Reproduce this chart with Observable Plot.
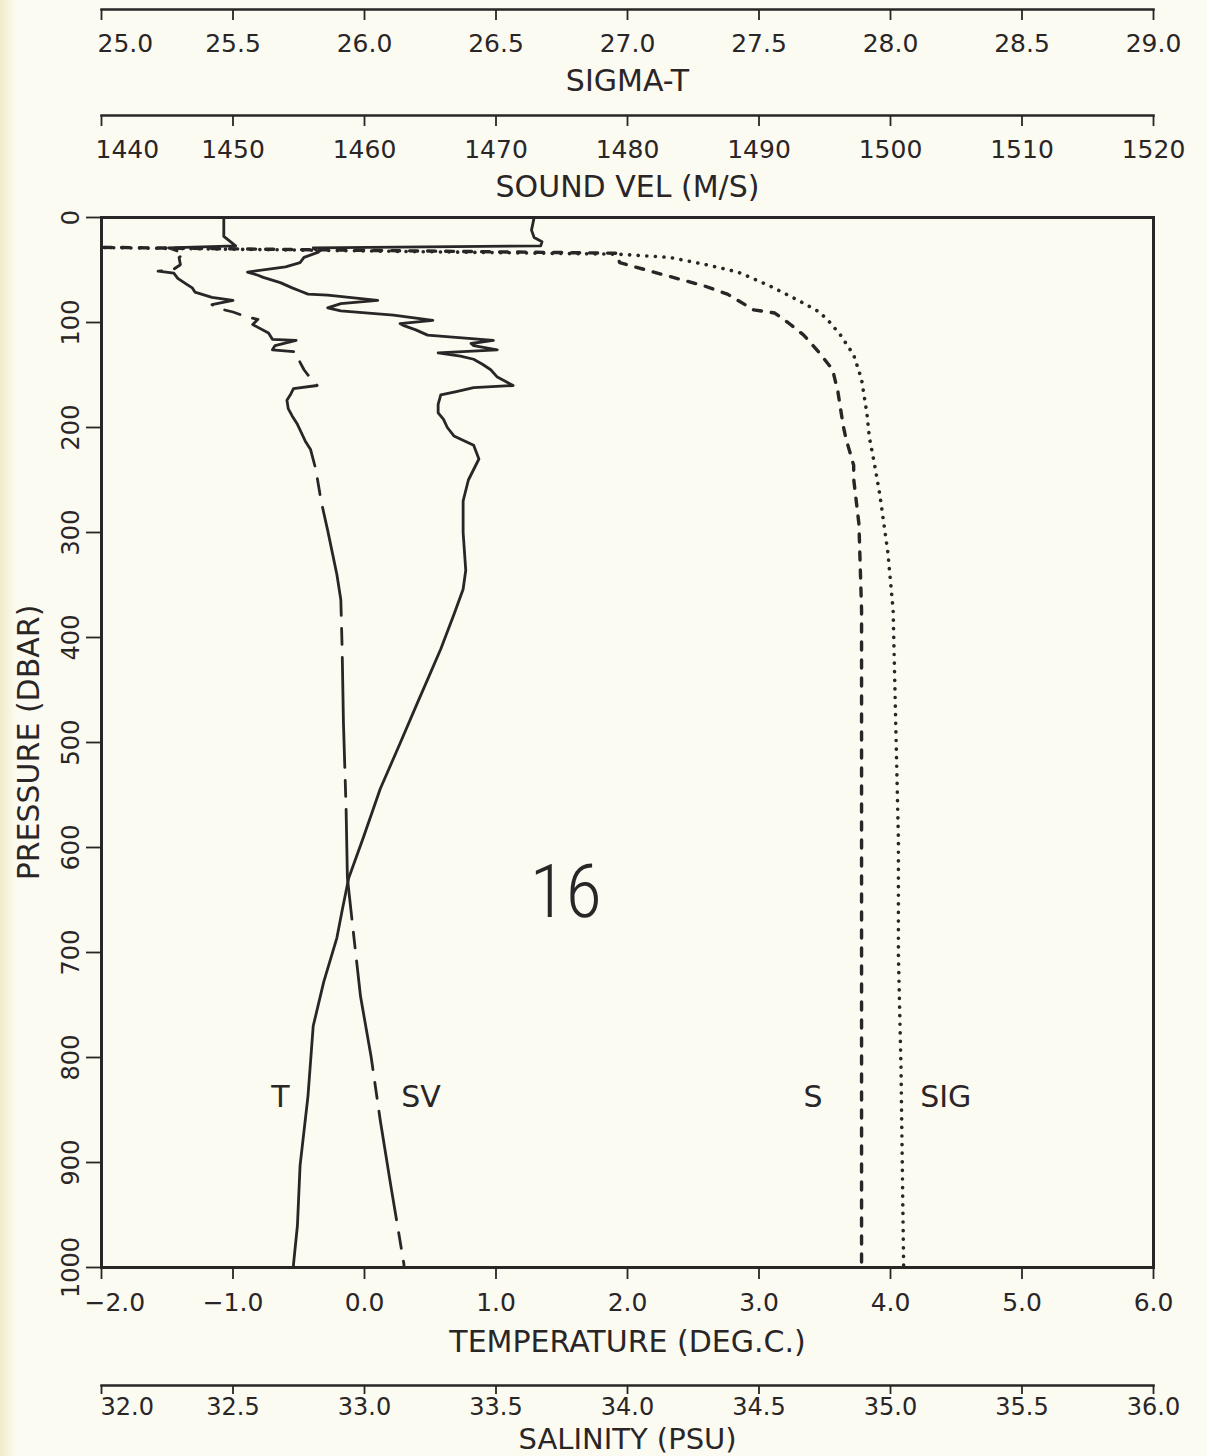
<!DOCTYPE html>
<html lang="en">
<head>
<meta charset="utf-8">
<title>Station 16 CTD profile</title>
<script src="https://cdn.jsdelivr.net/npm/d3@7"></script>
<script src="https://cdn.jsdelivr.net/npm/@observablehq/plot@0.6"></script>
<style>
  html, body { margin: 0; padding: 0; background: #fbfbf1; }
  #chart {
    position: relative; width: 1207px; height: 1456px; overflow: hidden;
    background: linear-gradient(to right, #f1ebcb 0px, #f7f4df 9px, #fbfbf1 16px);
  }
  #chart svg { position: absolute; left: 0; top: 0; }
  #chart g[aria-label$="axis label"] text { font-size: 30px; }
  #chart g[aria-label="y-axis tick label"] text { font-size: 24px; }
  #chart svg.salinity g[aria-label="x-axis tick label"] text { font-size: 24px; }
  #chart svg.salinity g[aria-label="x-axis label"] text { font-size: 29px; }
</style>
</head>
<body>
<div id="chart"></div>
<script>
// Station 16 CTD cast: pressure (dbar) against temperature, sound velocity,
// salinity and sigma-t, each series on its own horizontal scale.

// Temperature (deg C)
const tempPressure = [0, 12, 19, 23, 27, 29, 33, 38, 43, 47, 52, 55, 57, 62, 67, 70, 73, 74, 79, 82,
  86, 89, 93, 98, 101, 103, 107, 112, 117, 120, 122, 126, 129, 132, 135, 140, 145, 152, 156, 160,
  162, 166, 169, 178, 186, 192, 200, 208, 217, 230, 250, 270, 300, 336, 354, 378, 411, 437, 463, 501,
  544, 591, 629, 660, 686, 728, 770, 837, 903, 960, 997, 1000];
const temperature = [1.29, 1.27, 1.29, 1.35, 1.34, -0.39, -0.35, -0.46, -0.49, -0.60, -0.89, -0.81, -0.77, -0.64, -0.55, -0.49, -0.43, -0.28, 0.10, -0.18,
  -0.28, -0.18, 0.22, 0.52, 0.27, 0.30, 0.39, 0.48, 0.98, 0.81, 0.83, 1.01, 0.56, 0.73, 0.83, 0.90, 0.96, 1.01, 1.07, 1.13,
  0.83, 0.69, 0.58, 0.56, 0.56, 0.60, 0.63, 0.68, 0.83, 0.87, 0.79, 0.75, 0.75, 0.77, 0.75, 0.68, 0.58, 0.49, 0.40, 0.27,
  0.12, -0.01, -0.12, -0.17, -0.21, -0.31, -0.39, -0.43, -0.49, -0.51, -0.54, -0.54];

// Sound velocity (m/s)
const svPressure = [0, 18, 23, 27, 29, 31, 35, 38, 45, 50, 51, 53, 58, 63, 67, 71, 76, 79, 83, 87,
  90, 95, 97, 102, 110, 116, 117, 122, 126, 128, 132, 138, 145, 150, 160, 163, 168, 174, 182, 189,
  197, 205, 213, 221, 240, 270, 298, 340, 364, 411, 482, 563, 629, 686, 742, 799, 860, 922, 997, 1000];
const soundVelocity = [1449.3, 1449.3, 1449.8, 1450.2, 1445.1, 1445.6, 1446.3, 1445.9, 1446.0, 1445.4,
  1444.3, 1445.5, 1445.8, 1446.4, 1446.9, 1447.1, 1448.4, 1450.0, 1448.4, 1449.0,
  1450.0, 1451.1, 1451.9, 1451.5, 1452.7, 1453.0, 1454.8, 1453.2, 1453.0, 1454.8,
  1454.9, 1455.1, 1455.4, 1455.7, 1456.4, 1454.6, 1454.4, 1454.1, 1454.2, 1454.5,
  1454.9, 1455.2, 1455.5, 1455.9, 1456.3, 1456.7, 1457.2, 1457.9, 1458.2, 1458.3,
  1458.4, 1458.6, 1458.7, 1459.2, 1459.7, 1460.5, 1461.2, 1462.0, 1463.0, 1463.0];

// Salinity (PSU); the surface layer is fresher than the axis minimum
const salPressure = [0, 27, 34, 43, 52, 65, 73, 88, 91, 100, 112, 129, 145, 166, 198, 210, 236, 249, 292, 374,
  483, 592, 702, 811, 1000];
const salinity = [31.50, 31.50, 33.96, 33.97, 34.10, 34.29, 34.38, 34.48, 34.56, 34.61, 34.67, 34.73, 34.78, 34.80, 34.82,
  34.83, 34.86, 34.86, 34.88, 34.89, 34.89, 34.89, 34.89, 34.89, 34.89];

// Sigma-t (kg/m3 - 1000); surface values fall below the axis minimum
const sigPressure = [0, 27, 35, 38, 45, 52, 65, 79, 90, 100, 112, 131, 154, 186, 210, 236, 265, 319, 374, 483,
  592, 702, 811, 1000];
const sigmaT = [24.50, 24.50, 26.97, 27.16, 27.30, 27.42, 27.54, 27.65, 27.73, 27.77, 27.81, 27.86, 27.89, 27.91, 27.92,
  27.94, 27.96, 27.99, 28.01, 28.02, 28.03, 28.03, 28.04, 28.05];

// Axis ticks
const tempTicks = [-2, -1, 0, 1, 2, 3, 4, 5, 6];
const svTicks = [1440, 1450, 1460, 1470, 1480, 1490, 1500, 1510, 1520];
const salTicks = [32, 32.5, 33, 33.5, 34, 34.5, 35, 35.5, 36];
const sigTicks = [25, 25.5, 26, 26.5, 27, 27.5, 28, 28.5, 29];
const pressureTicks = [0, 100, 200, 300, 400, 500, 600, 700, 800, 900, 1000];

// Curve names and station number, placed in temperature / pressure units
const curveNames = ["T", "SV", "S", "SIG"];
const curveNameTemp = [-0.64, 0.43, 3.41, 4.42];
const curveNamePressure = 838;
const stationLabel = "16";

const W = 1207, H = 1456;
const frameBox = {left: 101, right: 1153, top: 217, bottom: 1267};
const INK = "#2a2526";
const FONT = "'DejaVu Sans', 'Liberation Sans', sans-serif";
const fmt1 = d3.format(".1f");
const fmt0 = d3.format("d");

const rows = (ps, vs) => ps.map((p, i) => ({p, v: vs[i]}));
const svgStyle = {background: "transparent", fontFamily: FONT, fontSize: "25px", color: INK, overflow: "visible"};

// Shared frame geometry for the profile layers
const layer = {
  width: W, height: H,
  marginLeft: frameBox.left, marginRight: W - frameBox.right,
  marginTop: frameBox.top, marginBottom: H - frameBox.bottom,
  style: svgStyle
};
const yScale = {domain: [0, 1000], reverse: true};

// Bottom-anchored tick axis; the first label starts at its tick instead of centring on it
function hangingAxis(ticks, format, label, {tickSize, tickPadding, labelOffset, firstShift}) {
  return [
    Plot.axisX({anchor: "bottom", ticks, tickFormat: d => (d === ticks[0] ? "" : format(d)),
      tickSize, tickPadding, strokeWidth: 1.8,
      label, labelAnchor: "center", labelOffset, labelArrow: "none"}),
    Plot.axisX({anchor: "bottom", ticks: ticks.slice(0, 1), tickFormat: format,
      tickSize: 0, tickPadding: tickSize + tickPadding, label: null, textAnchor: "start", dx: firstShift})
  ];
}

// A horizontal scale drawn as a ruled line with hanging ticks
function axisStrip(lineY, domain, ticks, format, label, opts, className) {
  return Plot.plot({
    width: W, height: H, className,
    marginLeft: frameBox.left, marginRight: W - frameBox.right,
    marginTop: lineY - 1, marginBottom: H - lineY,
    style: svgStyle,
    x: {domain},
    marks: [
      Plot.frame({anchor: "bottom", stroke: INK, strokeWidth: 2.5}),
      ...hangingAxis(ticks, format, label, opts)
    ]
  });
}

const main = Plot.plot({
  ...layer,
  x: {domain: [-2, 6]},
  y: yScale,
  marks: [
    Plot.frame({stroke: INK, strokeWidth: 3}),
    ...hangingAxis(tempTicks, fmt1, "TEMPERATURE (DEG.C.)",
      {tickSize: 12, tickPadding: 14, labelOffset: 84, firstShift: -17}),
    Plot.axisY({anchor: "left", ticks: pressureTicks, tickFormat: fmt0, tickSize: 15, tickPadding: 8,
      tickRotate: -90, strokeWidth: 1.8, label: "PRESSURE (DBAR)", labelAnchor: "center", labelOffset: 84, labelArrow: "none"}),
    Plot.line(rows(tempPressure, temperature), {x: "v", y: "p", stroke: INK, strokeWidth: 2.8,
      strokeLinejoin: "round", clip: true}),
    Plot.text(curveNames, {x: (d, i) => curveNameTemp[i], y: () => curveNamePressure, text: d => d,
      fontSize: 30, fill: INK}),
    Plot.text([stationLabel], {x: () => 1.53, y: () => 644, text: d => d, fontSize: 74, fill: INK,
      fontWeight: 300, letterSpacing: -4,
      fontFamily: "'Roboto Condensed', 'Liberation Sans Narrow', 'DejaVu Sans Condensed', 'Liberation Sans', sans-serif"})
  ]
});

const svLayer = Plot.plot({
  ...layer,
  x: {domain: [1440, 1520], axis: null},
  y: {...yScale, axis: null},
  marks: [
    Plot.line(rows(svPressure, soundVelocity), {x: "v", y: "p", stroke: INK, strokeWidth: 2.8,
      strokeDasharray: "110,13,16,13", strokeLinejoin: "round", clip: true})
  ]
});

const salLayer = Plot.plot({
  ...layer,
  x: {domain: [32, 36], axis: null},
  y: {...yScale, axis: null},
  marks: [
    Plot.line(rows(salPressure, salinity), {x: "v", y: "p", stroke: INK, strokeWidth: 3.4,
      strokeDasharray: "8,10", strokeLinecap: "round", strokeLinejoin: "round", clip: true})
  ]
});

const sigLayer = Plot.plot({
  ...layer,
  x: {domain: [25, 29], axis: null},
  y: {...yScale, axis: null},
  marks: [
    Plot.line(rows(sigPressure, sigmaT), {x: "v", y: "p", stroke: INK, strokeWidth: 3.6,
      strokeDasharray: "0.1,8.5", strokeLinecap: "round", strokeLinejoin: "round", clip: true})
  ]
});

const chart = document.getElementById("chart");
chart.append(
  axisStrip(9, [25, 29], sigTicks, fmt1, "SIGMA-T",
    {tickSize: 11, tickPadding: 14, labelOffset: 81, firstShift: -4}),
  axisStrip(115, [1440, 1520], svTicks, fmt0, "SOUND VEL (M/S)",
    {tickSize: 11, tickPadding: 14, labelOffset: 81, firstShift: -6}),
  axisStrip(1385, [32, 36], salTicks, fmt1, "SALINITY (PSU)",
    {tickSize: 9, tickPadding: 3, labelOffset: 63, firstShift: -1}, "salinity"),
  main, svLayer, salLayer, sigLayer
);
</script>
</body>
</html>
